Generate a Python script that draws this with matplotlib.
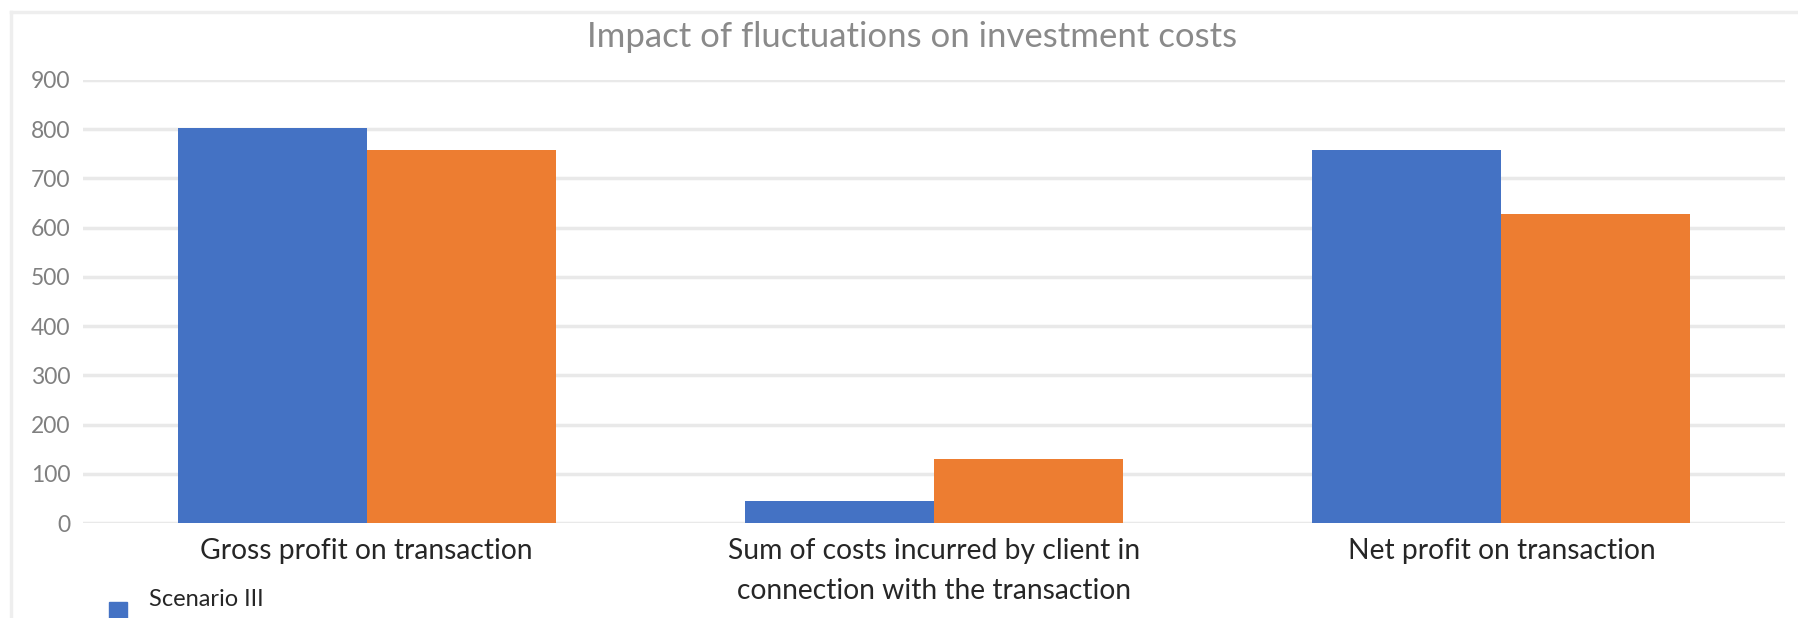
import matplotlib.pyplot as plt
import numpy as np
from matplotlib.patches import Rectangle
from matplotlib.lines import Line2D

# data
categories = ['Gross profit on transaction',
              'Sum of costs incurred by client in\nconnection with the transaction',
              'Net profit on transaction']
scenario_3 = [803, 45, 758]
scenario_4 = [758, 130, 628]
y_ticks = [0, 100, 200, 300, 400, 500, 600, 700, 800, 900]

W, H = 1798, 618
plt.rcParams['font.family'] = ['Lato', 'DejaVu Sans']

fig = plt.figure(figsize=(W / 100, H / 100), dpi=100)
ax = fig.add_axes([83 / W, 1 - 523 / H, (1785 - 83) / W, (523 - 80) / H])

x = np.arange(len(categories))
w = 1 / 3
ax.bar(x - w / 2, scenario_3, w, color='#4472C4', label='Scenario III', zorder=3)
ax.bar(x + w / 2, scenario_4, w, color='#ED7D31', zorder=3)

ax.set_xlim(-0.5, 2.5)
ax.set_ylim(0, 900)
ax.set_yticks(y_ticks)
ax.set_xticks(x)
ax.set_xticklabels(categories, fontsize=20.3, color='#262626', linespacing=1.65)
ax.tick_params(axis='y', length=0, pad=9, labelsize=16.5, labelcolor='#808080')
ax.tick_params(axis='x', length=0, pad=11)
ax.grid(axis='y', color='#e9e9e9', linewidth=2.5, zorder=0)
for s in ax.spines.values():
    s.set_visible(False)

# chart area frame (cropped at right and bottom)
fig.add_artist(Line2D([11 / W, 1], [1 - 12 / H, 1 - 12 / H], color='#eeeeee', linewidth=2.5))
fig.add_artist(Line2D([11 / W, 11 / W], [0, 1 - 12 / H], color='#eeeeee', linewidth=2.5))

fig.text(912 / W, 1 - 37 / H, 'Impact of fluctuations on investment costs',
         ha='center', va='center', fontsize=25, color='#8a8a8a')

# legend (cut off at the bottom of the picture)
fig.add_artist(Rectangle((109 / W, 1 - 620 / H), 18 / W, 18 / H, color='#4472C4',
                         transform=fig.transFigure))
fig.text(149 / W, 1 - 600 / H, 'Scenario III', ha='left', va='center',
         fontsize=17, color='#262626')

fig.savefig('out.png', dpi=100)
